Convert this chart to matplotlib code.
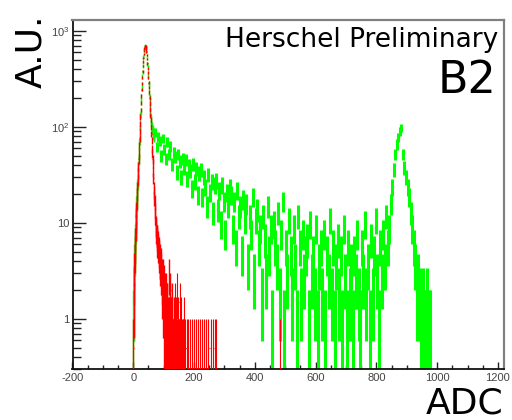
import numpy as np
import matplotlib
matplotlib.use("Agg")
import matplotlib.pyplot as plt
from matplotlib.ticker import FixedLocator, FixedFormatter, LogLocator, NullFormatter, MultipleLocator

# ---------------- data ----------------
x_limits = (-200, 1220)
y_limits = (0.3, 1300)

red_au_per_count = 0.5
green_au_per_count = 1.0

# red: 1-ADC bins starting at ADC 0 (ADC 0..130)
red_fine_counts = [
    1, 3, 5, 7, 9, 11, 14, 17, 20, 24,
    28, 33, 40, 47, 56, 66, 78, 92, 108, 128,
    152, 180, 214, 254, 300, 356, 420, 490, 570, 660,
    756, 862, 956, 1049, 1150, 1234, 1311, 1356, 1382, 1391,
    1376, 1344, 1286, 1210, 1128, 1020, 920, 815, 734, 654,
    580, 516, 462, 400, 352, 306, 266, 236, 198, 170,
    146, 119, 106, 92, 84, 68, 58, 47, 42, 36,
    33, 27, 24, 19, 18, 16, 15, 14, 15, 12,
    13, 11, 12, 10, 9, 11, 8, 9, 7, 8,
    7, 6, 8, 5, 6, 4, 6, 3, 5, 4,
    2, 5, 3, 4, 2, 3, 1, 4, 2, 3,
    1, 2, 3, 1, 2, 1, 2, 6, 1, 2,
    3, 1, 4, 1, 2, 0, 3, 1, 2, 0,
    1,
]
# red: isolated non-empty 1-ADC bins further out
red_sparse_adc = [132, 134, 136, 138, 140, 142, 144, 146, 148, 150,
                  152, 154, 157, 159, 162, 165, 168, 171, 175, 180,
                  186, 193, 199, 205, 212, 219, 226, 232, 239, 247,
                  254, 261, 267, 272, 482]
red_sparse_counts = [2, 1, 3, 1, 2, 1, 4, 1, 2, 1,
                     3, 1, 2, 1, 1, 2, 1, 1, 1, 1,
                     1, 1, 1, 1, 1, 1, 1, 1, 1, 1,
                     1, 1, 1, 1, 1]

# green: 1-ADC bins ADC 0..69
green_fine_counts = [
    1, 2, 2, 4, 5, 6, 7, 9, 10, 12,
    15, 17, 19, 24, 27, 34, 38, 47, 53, 66,
    74, 92, 104, 130, 146, 182, 205, 250, 280, 336,
    372, 435, 470, 535, 566, 622, 645, 683, 688, 700,
    684, 676, 638, 612, 553, 517, 452, 418, 360, 332,
    286, 263, 226, 207, 180, 160, 140, 126, 117, 108,
    103, 97, 94, 95, 86, 90, 82, 87, 79, 84,
]
# green tail: one sample every 5 ADC from ADC 70 to 975
green_tail_start = 70
green_tail_step = 5
green_tail_counts = [
    88, 62, 79, 71, 50, 76, 58, 47, 70, 52,
    63, 41, 55, 49, 34, 52, 44, 30, 47, 38,
    46, 29, 40, 35, 23, 41, 27, 37, 20, 33,
    36, 19, 30, 24, 15, 32, 21, 27, 13, 25,
    28, 14, 22, 10, 25, 17, 8, 21, 15, 24,
    20, 9, 17, 6, 22, 12, 15, 5, 18, 11,
    16, 4, 12, 8, 19, 3, 11, 14, 6, 9,
    2, 12, 7, 3, 15, 5, 9, 1, 10, 6,
    4, 13, 2, 8, 17, 1, 6, 3, 11, 5,
    2, 9, 4, 1, 12, 6, 2, 8, 3, 5,
    7, 1, 10, 3, 5, 2, 9, 1, 4, 6,
    2, 8, 1, 5, 3, 11, 2, 6, 1, 4,
    7, 2, 5, 1, 9, 3, 1, 6, 2, 4,
    1, 5, 3, 8, 2, 1, 6, 3, 10, 2,
    4, 1, 7, 2, 5, 11, 3, 1, 6, 3,
    8, 4, 12, 6, 9, 16, 24, 36, 52, 66,
    78, 90, 98, 52, 38, 30, 24, 19, 13, 9,
    6, 4, 2, 3, 2, 1, 2, 1, 1, 2,
    1, 1,
]

x_ticks = [-200, 0, 200, 400, 600, 800, 1000, 1200]
x_ticklabels = ["-200", "0", "200", "400", "600", "800", "1000", "1200"]
y_ticks = [1, 10, 100, 1000]
y_ticklabels = ["1", "10", r"$10^{2}$", r"$10^{3}$"]

# ---------------- style ----------------
plt.rcParams["mathtext.default"] = "regular"
RED = "#ff0000"
GREEN = "#00ff00"


def draw_hist(ax, adc, counts, au_per_count, color, z, lw, offset=0.5, half_width=0.5):
    adc = np.asarray(adc, float)
    counts = np.asarray(counts, float)
    m = counts > 0
    x = adc[m] + offset
    v = counts[m] * au_per_count
    e = np.sqrt(counts[m]) * au_per_count
    lo = np.maximum(v - e, 1e-3)
    hi = v + e
    ax.vlines(x, lo, hi, colors=color, lw=lw, zorder=z)
    ax.hlines(v, x - half_width, x + half_width, colors=color, lw=lw, zorder=z)


fig = plt.figure(figsize=(5.12, 4.2), dpi=100)
ax = fig.add_axes([72.5 / 512, 51 / 420, 431.5 / 512, 349 / 420])
ax.set_yscale("log")

green_fine_adc = np.arange(len(green_fine_counts))
green_tail_adc = green_tail_start + green_tail_step * np.arange(len(green_tail_counts))
red_fine_adc = np.arange(len(red_fine_counts))

draw_hist(ax, green_fine_adc, green_fine_counts, green_au_per_count, GREEN, 2, 1.0)
draw_hist(ax, green_tail_adc, green_tail_counts, green_au_per_count, GREEN, 2, 2.2,
          offset=green_tail_step / 2, half_width=0.5)
draw_hist(ax, red_fine_adc, red_fine_counts, red_au_per_count, RED, 3, 1.0)
draw_hist(ax, red_sparse_adc, red_sparse_counts, red_au_per_count, RED, 3, 0.8)

ax.set_xlim(*x_limits)
ax.set_ylim(*y_limits)

ax.xaxis.set_major_locator(FixedLocator(x_ticks))
ax.xaxis.set_major_formatter(FixedFormatter(x_ticklabels))
ax.xaxis.set_minor_locator(MultipleLocator(50))
ax.yaxis.set_major_locator(FixedLocator(y_ticks))
ax.yaxis.set_major_formatter(FixedFormatter(y_ticklabels))
ax.yaxis.set_minor_locator(LogLocator(base=10, subs=np.arange(2, 10)))
ax.yaxis.set_minor_formatter(NullFormatter())

ax.tick_params(axis="x", which="major", direction="in", length=5, width=1.0,
               pad=3, labelsize=8, labelcolor="#444444", color="#222222")
ax.tick_params(axis="x", which="minor", direction="in", length=3, width=1.0, color="#222222")
ax.tick_params(axis="y", which="major", direction="in", length=9.5, width=1.0,
               pad=2, labelsize=8, labelcolor="#444444", color="#222222")
ax.tick_params(axis="y", which="minor", direction="in", length=5.5, width=1.0, color="#222222")
for lab in ax.get_xticklabels() + ax.get_yticklabels():
    lab.set_family("Liberation Sans")

ax.spines["left"].set_color("#111111")
ax.spines["bottom"].set_color("#111111")
ax.spines["left"].set_linewidth(1.3)
ax.spines["bottom"].set_linewidth(1.3)
ax.spines["top"].set_color("#808080")
ax.spines["right"].set_color("#808080")
ax.spines["top"].set_linewidth(1.6)
ax.spines["right"].set_linewidth(1.6)

fig.text(31 / 512, 1 - 51 / 420, "A.U.", rotation=90, ha="center", va="center",
         fontsize=26, family="DejaVu Sans")
fig.text(503 / 512, 0.0, "ADC", ha="right", va="bottom",
         fontsize=26, family="DejaVu Sans")
fig.text(498 / 512, 1 - 47 / 420, "Herschel Preliminary", ha="right", va="baseline",
         fontsize=19, family="DejaVu Sans")
fig.text(497 / 512, 1 - 93 / 420, "B2", ha="right", va="baseline",
         fontsize=32, family="DejaVu Sans")

fig.savefig("out.png", dpi=100)
